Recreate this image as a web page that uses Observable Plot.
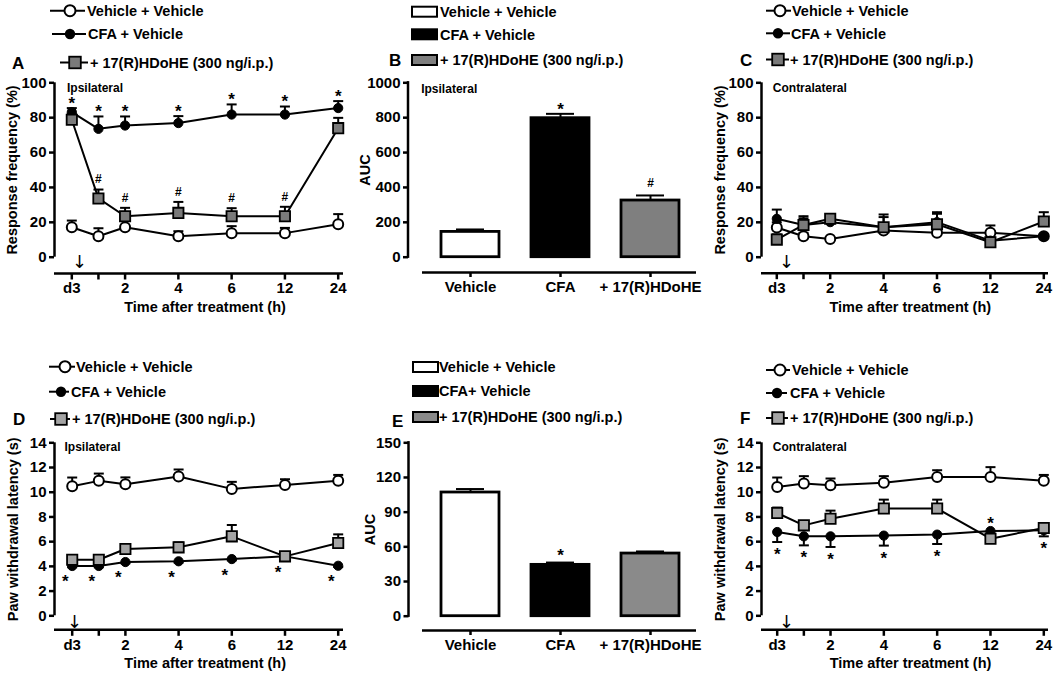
<!DOCTYPE html>
<html><head><meta charset="utf-8">
<script src="https://cdn.jsdelivr.net/npm/d3@7"></script>
<script src="https://cdn.jsdelivr.net/npm/@observablehq/plot@0.6"></script>
<style>
body{margin:0;background:#fff;}
#page{position:relative;width:1063px;height:679px;overflow:hidden;background:#fff;}
</style></head><body><div id="page"></div>
<script>
// ---------------- DATA ----------------
const hours = [0, 1, 2, 4, 6, 12, 24];            // d3 = baseline before treatment
const hourLabels = ["d3", "", "2", "4", "6", "12", "24"];
const hourSlots = [0, 0.5, 1, 2, 3, 4, 5];         // column spacing of the time axis
const seriesNames = ["Vehicle + Vehicle", "CFA + Vehicle", "+ 17(R)HDoHE (300 ng/i.p.)"];
const xLabel = "Time after treatment (h)";

// Panel A – response frequency (%), ipsilateral
const vehA = [17.2, 12.0, 17.2, 12.0, 13.8, 13.8, 18.9];
const vehA_sem = [3.8, 4.6, 0.5, 2.9, 4.0, 3.0, 5.8];
const cfaA = [83.2, 73.6, 75.5, 76.9, 81.8, 81.8, 85.5];
const cfaA_sem = [2.3, 7.1, 5.2, 4.0, 5.8, 4.6, 4.0];
const hdA = [78.8, 33.7, 23.5, 25.4, 23.5, 23.5, 74.0];
const hdA_sem = [3.5, 5.1, 4.8, 6.3, 4.6, 5.4, 5.9];
const sigA_cfa = ["*", "*", "*", "*", "*", "*", "*"];
const sigA_hd = ["", "#", "#", "#", "#", "#", ""];

// Panel C – response frequency (%), contralateral
const vehC = [17.0, 12.0, 10.5, 15.3, 14.0, 14.0, 12.0];
const vehC_sem = [3.0, 2.0, 0.5, 2.0, 2.0, 4.2, 1.0];
const cfaC = [22.0, 18.5, 20.1, 17.2, 20.1, 9.5, 12.0];
const cfaC_sem = [5.3, 5.0, 1.5, 7.3, 5.7, 2.0, 1.0];
const hdC = [10.1, 18.5, 22.0, 17.2, 18.9, 8.6, 20.5];
const hdC_sem = [3.0, 3.8, 1.5, 5.8, 6.0, 2.0, 5.3];

// Panel D – paw withdrawal latency (s), ipsilateral
const vehD = [10.49, 10.92, 10.65, 11.27, 10.27, 10.59, 10.92];
const vehD_sem = [0.70, 0.59, 0.55, 0.57, 0.57, 0.46, 0.48];
const cfaD = [4.03, 4.03, 4.35, 4.41, 4.59, 4.81, 4.05];
const cfaD_sem = [0.1, 0.1, 0.1, 0.1, 0.1, 0.1, 0.1];
const hdD = [4.54, 4.54, 5.41, 5.54, 6.43, 4.81, 5.89];
const hdD_sem = [0.2, 0.2, 0.3, 0.4, 0.92, 0.2, 0.70];
const sigD_cfa = ["*", "*", "*", "*", "*", "*", "*"];

// Panel F – paw withdrawal latency (s), contralateral
const vehF = [10.43, 10.70, 10.57, 10.76, 11.24, 11.24, 10.92];
const vehF_sem = [0.76, 0.60, 0.54, 0.54, 0.54, 0.79, 0.48];
const cfaF = [6.78, 6.43, 6.43, 6.49, 6.57, 6.86, 6.92];
const cfaF_sem = [0.81, 0.73, 0.86, 0.81, 0.76, 0.2, 0.49];   // drawn downward
const hdF = [8.32, 7.32, 7.86, 8.68, 8.68, 6.24, 7.10];
const hdF_sem = [0.44, 0.30, 0.65, 0.72, 0.72, 0.2, 0.30];
const sigF_cfa = ["*", "*", "*", "*", "*", "*", "*"];
const sigF_side = ["below", "below", "below", "below", "below", "above", "below"];

// Panels B and E – AUC bars
const barCats = ["Vehicle", "CFA", "+ 17(R)HDoHE"];
const aucB = [145, 797, 325];
const aucB_sem = [14, 25, 29];
const sigB = ["", "*", "#"];
const aucE = [107, 44.4, 54.2];
const aucE_sem = [3, 2, 1.8];
const sigE = ["", "*", ""];
const legendB = ["Vehicle + Vehicle", "CFA + Vehicle", "+ 17(R)HDoHE (300 ng/i.p.)"];
const legendE = ["Vehicle + Vehicle", "CFA+ Vehicle", "+ 17(R)HDoHE (300 ng/i.p.)"];

// ---------------- RENDERING ----------------
const FONT = "'Liberation Sans', Arial, Helvetica, sans-serif";
const page = document.getElementById("page");
const GREY_TOP = "#7a7a7a", GREY_BOTTOM = "#a4a4a4";

function place(node, left, top) {
  node.style.position = "absolute";
  node.style.left = left + "px";
  node.style.top = top + "px";
  page.appendChild(node);
}
const plotStyle = {fontFamily: FONT, fontSize: "15px", fontWeight: "bold", background: "transparent", overflow: "visible", color: "black"};
const capSymbol = {draw(ctx, size) { const w = Math.sqrt(size / Math.PI); ctx.moveTo(-w, 0); ctx.lineTo(w, 0); }};
const tickDown = {draw(ctx) { ctx.moveTo(0, 0); ctx.lineTo(0, 6); }};

function markerMark(rows, kind, fill) {
  if (kind === "open") return Plot.dot(rows, {x: "slot", y: "mean", r: 5, fill: "white", stroke: "black", strokeWidth: 2});
  if (kind === "filled") return Plot.dot(rows, {x: "slot", y: "mean", r: 4.6, fill: "black", stroke: "black", strokeWidth: 1});
  return Plot.dot(rows, {x: "slot", y: "mean", symbol: "square", r: 5.8, fill, stroke: "black", strokeWidth: 1.8});
}

function layout(cfg) {
  const mL = cfg.axisX - cfg.left, mR = cfg.left + cfg.width - cfg.frameRight;
  const mT = cfg.yTopPx - cfg.top, mB = cfg.top + cfg.height - cfg.xLinePx;
  const yMin = -(cfg.xLinePx - cfg.y0Px) * cfg.yMax / (cfg.y0Px - cfg.yTopPx);
  return {mL, mR, mT, mB, yMin};
}

function linePanel(cfg) {
  const slotOf = d3.scaleLinear().domain(hours).range(hourSlots);
  const tickRows = hours.map((h, i) => ({slot: slotOf(h), label: hourLabels[i]}));
  const {mL, mR, mT, mB, yMin} = layout(cfg);
  const k = (cfg.tick5Px - cfg.tick0Px) / 5;
  const xDomain = [(cfg.axisX - cfg.tick0Px) / k, 5 + (cfg.frameRight - cfg.tick5Px) / k];
  const xMid = (tickRows[0].slot + tickRows[tickRows.length - 1].slot) / 2;
  const rowsOf = cfg.series.map(s => hours.map((h, i) => ({slot: slotOf(h), mean: s.mean[i], end: s.mean[i] + s.dir * s.sem[i]})));
  const marks = [
    // axes (GraphPad style: y line 0..max, detached x line at the bottom)
    Plot.ruleX([xDomain[0]], {y1: 0, y2: cfg.yMax, stroke: "black", strokeWidth: 2.5}),
    Plot.ruleY([yMin], {stroke: "black", strokeWidth: 2.5}),
    Plot.axisY({ticks: cfg.yTicks, tickFormat: d => String(d), tickSize: 5, tickPadding: 3, strokeWidth: 2.5, label: null}),
    Plot.dot(tickRows, {x: "slot", y: yMin, symbol: tickDown, r: 3, stroke: "black", strokeWidth: 2.5, fill: "none"}),
    Plot.text(tickRows.filter(d => d.label), {x: "slot", y: yMin, text: "label", dy: 15, lineAnchor: "middle", fontSize: 15, fontWeight: "bold"}),
    Plot.text([xLabel], {x: xMid, y: yMin, dy: 34, textAnchor: "middle", lineAnchor: "middle", fontSize: 14.5, fontWeight: "bold"}),
    Plot.text([cfg.yLabel], {x: xDomain[0], y: cfg.yMax / 2, dx: cfg.yLabelDx, rotate: -90, textAnchor: "middle", lineAnchor: "middle", fontSize: 14.5, fontWeight: "bold"}),
    Plot.text(["\u2193"], {x: xDomain[0], y: yMin, dx: cfg.arrowDx, dy: cfg.arrowDy, textAnchor: "middle", lineAnchor: "middle", fontSize: 18, fontWeight: "normal", fontFamily: "'DejaVu Sans', sans-serif", fill: "black"}),
    Plot.text([cfg.subtitle], {x: xDomain[0], y: cfg.yMax, dx: cfg.subDx, dy: cfg.subDy, textAnchor: "start", lineAnchor: "middle", fontSize: 12, fontWeight: "bold"})
  ];
  rowsOf.forEach(rows => marks.push(Plot.line(rows, {x: "slot", y: "mean", stroke: "black", strokeWidth: 2})));
  rowsOf.forEach(rows => {
    marks.push(Plot.ruleX(rows, {x: "slot", y1: "mean", y2: "end", stroke: "black", strokeWidth: 2}));
    marks.push(Plot.dot(rows, {x: "slot", y: "end", symbol: capSymbol, r: 5, stroke: "black", strokeWidth: 2, fill: "none"}));
  });
  cfg.series.forEach((s, j) => marks.push(markerMark(rowsOf[j], s.kind, cfg.sqFill)));
  (cfg.notes || []).forEach(n => {
    const rows = rowsOf[n.series].map((r, i) => ({...r, label: n.labels[i]})).filter(d => d.label);
    marks.push(Plot.text(rows, {x: "slot", y: n.ref, text: "label", dx: n.dx || 0, dy: n.dy, fontSize: n.fontSize, fontWeight: "bold"}));
  });
  const svg = Plot.plot({
    width: cfg.width, height: cfg.height,
    marginLeft: mL, marginRight: mR, marginTop: mT, marginBottom: mB,
    x: {domain: xDomain, axis: null},
    y: {domain: [yMin, cfg.yMax], axis: null},
    style: plotStyle,
    marks
  });
  place(svg, cfg.left, cfg.top);
}

function yAxisLine(yTop, xLeft) {
  return (index, scales) => {
    const g = d3.create("svg:g").attr("stroke", "black").attr("stroke-width", 2.5);
    g.append("line").attr("x1", xLeft).attr("x2", xLeft).attr("y1", scales.y(yTop) - 1.2).attr("y2", scales.y(0) + 1.2);
    return g.node();
  };
}

function barPanel(cfg) {
  const {mL, mR, mT, mB, yMin} = layout(cfg);
  const rows = barCats.map((c, i) => ({cat: c, value: cfg.values[i], end: cfg.values[i] + cfg.sems[i], fill: cfg.fills[i], sig: cfg.sig[i]}));
  const marks = [
    yAxisLine(cfg.yMax, mL),
    Plot.ruleY([yMin], {stroke: "black", strokeWidth: 2.5, insetLeft: cfg.xLineStart - cfg.axisX}),
    Plot.axisY({ticks: cfg.yTicks, tickFormat: d => String(d), tickSize: 5, tickPadding: 3, strokeWidth: 2.5, label: null}),
    Plot.axisX({tickSize: 5, tickPadding: 4, strokeWidth: 2.5, label: null}),
    Plot.ruleX(rows, {x: "cat", y1: "value", y2: "end", stroke: "black", strokeWidth: 2}),
    Plot.tickY(rows, {x: "cat", y: "end", stroke: "black", strokeWidth: 2, insetLeft: 15, insetRight: 15}),
    Plot.barY(rows, {x: "cat", y: "value", fill: "fill", stroke: "black", strokeWidth: 2.8}),
    Plot.text(rows.filter(d => d.sig === "*"), {x: "cat", y: "end", text: "sig", dy: cfg.starDy, fontSize: 17, fontWeight: "bold"}),
    Plot.text(rows.filter(d => d.sig === "#"), {x: "cat", y: "end", text: "sig", dy: -12, fontSize: 12, fontWeight: "bold"}),
    Plot.text(["AUC"], {frameAnchor: "left", y: cfg.yMax / 2, rotate: -90, dx: cfg.yLabelDx, textAnchor: "middle", lineAnchor: "middle", fontSize: 14.5, fontWeight: "bold"})
  ];
  if (cfg.subtitle) marks.push(Plot.text([cfg.subtitle], {frameAnchor: "left", y: cfg.yMax, dx: cfg.subDx, dy: cfg.subDy, textAnchor: "start", lineAnchor: "middle", fontSize: 12, fontWeight: "bold"}));
  const svg = Plot.plot({
    width: cfg.width, height: cfg.height,
    marginLeft: mL, marginRight: mR, marginTop: mT, marginBottom: mB,
    x: {domain: barCats, paddingInner: 0.36, paddingOuter: 0.18, insetLeft: cfg.bandStart - cfg.axisX},
    y: {domain: [yMin, cfg.yMax]},
    color: {type: "identity"},
    style: plotStyle,
    marks
  });
  place(svg, cfg.left, cfg.top);
}

const kinds = ["open", "filled", "square"];

// Panel A
linePanel({
  left: 0, top: 75, width: 350, height: 245, axisX: 54, frameRight: 343,
  yTopPx: 82.3, y0Px: 256.7, xLinePx: 273, tick0Px: 71.3, tick5Px: 337.7,
  yMax: 100, yTicks: [0, 20, 40, 60, 80, 100], yLabel: "Response frequency (%)", yLabelDx: -42,
  subtitle: "Ipsilateral", subDx: 12.5, subDy: 5, arrowDx: 25, arrowDy: -11, sqFill: GREY_TOP,
  series: [
    {mean: vehA, sem: vehA_sem, dir: 1, kind: "open"},
    {mean: cfaA, sem: cfaA_sem, dir: 1, kind: "filled"},
    {mean: hdA, sem: hdA_sem, dir: 1, kind: "square"}
  ],
  notes: [
    {series: 1, labels: sigA_cfa, ref: "end", dy: -4.5, fontSize: 17},
    {series: 2, labels: sigA_hd, ref: "end", dy: -10, fontSize: 12}
  ]
});
// Panel C
linePanel({
  left: 700, top: 75, width: 363, height: 245, axisX: 761, frameRight: 1048,
  yTopPx: 82.3, y0Px: 256.7, xLinePx: 272.7, tick0Px: 776.3, tick5Px: 1043.3,
  yMax: 100, yTicks: [0, 20, 40, 60, 80, 100], yLabel: "Response frequency (%)", yLabelDx: -41,
  subtitle: "Contralateral", subDx: 11.3, subDy: 5, arrowDx: 25, arrowDy: -11, sqFill: GREY_TOP,
  series: [
    {mean: vehC, sem: vehC_sem, dir: 1, kind: "open"},
    {mean: cfaC, sem: cfaC_sem, dir: 1, kind: "filled"},
    {mean: hdC, sem: hdC_sem, dir: 1, kind: "square"}
  ]
});
// Panel D
linePanel({
  left: 0, top: 430, width: 350, height: 245, axisX: 54, frameRight: 343,
  yTopPx: 442.3, y0Px: 615.3, xLinePx: 629.3, tick0Px: 71.7, tick5Px: 337.7,
  yMax: 14, yTicks: [0, 2, 4, 6, 8, 10, 12, 14], yLabel: "Paw withdrawal latency (s)", yLabelDx: -41.5,
  subtitle: "Ipsilateral", subDx: 10, subDy: 4.4, arrowDx: 20, arrowDy: -7.5, sqFill: GREY_BOTTOM,
  series: [
    {mean: vehD, sem: vehD_sem, dir: 1, kind: "open"},
    {mean: cfaD, sem: cfaD_sem, dir: -1, kind: "filled"},
    {mean: hdD, sem: hdD_sem, dir: 1, kind: "square"}
  ],
  notes: [
    {series: 1, labels: sigD_cfa, ref: "mean", dx: -7, dy: 16, fontSize: 17}
  ]
});
// Panel F
linePanel({
  left: 700, top: 430, width: 363, height: 245, axisX: 761, frameRight: 1048,
  yTopPx: 442.3, y0Px: 615.3, xLinePx: 629.3, tick0Px: 776.7, tick5Px: 1043.3,
  yMax: 14, yTicks: [0, 2, 4, 6, 8, 10, 12, 14], yLabel: "Paw withdrawal latency (s)", yLabelDx: -41,
  subtitle: "Contralateral", subDx: 11.3, subDy: 4.4, arrowDx: 25, arrowDy: -8, sqFill: GREY_BOTTOM,
  series: [
    {mean: vehF, sem: vehF_sem, dir: 1, kind: "open"},
    {mean: cfaF, sem: cfaF_sem, dir: -1, kind: "filled"},
    {mean: hdF, sem: hdF_sem, dir: 1, kind: "square"}
  ],
  notes: [
    {series: 1, labels: sigF_cfa.map((l, i) => sigF_side[i] === "below" ? l : ""), ref: "end", dy: 12.5, fontSize: 17},
    {series: 1, labels: sigF_cfa.map((l, i) => sigF_side[i] === "above" ? l : ""), ref: "mean", dy: -7, fontSize: 17}
  ]
});
// Panel B
barPanel({
  left: 355, top: 75, width: 345, height: 245, axisX: 408, frameRight: 696, bandStart: 424, xLineStart: 422,
  yTopPx: 82.3, y0Px: 256.7, xLinePx: 272, yMax: 1000, yTicks: [0, 200, 400, 600, 800, 1000],
  values: aucB, sems: aucB_sem, fills: ["white", "black", "#7f7f7f"], sig: sigB, starDy: -4.75,
  yLabelDx: -43, subtitle: "Ipsilateral", subDx: 12.7, subDy: 6
});
// Panel E
barPanel({
  left: 355, top: 430, width: 345, height: 245, axisX: 408.5, frameRight: 696, bandStart: 424, xLineStart: 422,
  yTopPx: 442.3, y0Px: 615.7, xLinePx: 630, yMax: 150, yTicks: [0, 30, 60, 90, 120, 150],
  values: aucE, sems: aucE_sem, fills: ["white", "black", "#8a8a8a"], sig: sigE, starDy: -6.75,
  yLabelDx: -38.5
});

// ---------------- LEGENDS & PANEL LETTERS ----------------
const over = d3.create("svg").attr("width", 1063).attr("height", 679)
  .style("font-family", FONT).style("font-weight", "bold");
function lineLegend(rows, letter, fill) {
  rows.forEach((r, i) => {
    over.append("line").attr("x1", r.x1).attr("x2", r.x2).attr("y1", r.y).attr("y2", r.y).attr("stroke", "black").attr("stroke-width", 2);
    const k = kinds[i];
    if (k === "open") over.append("circle").attr("cx", r.mx).attr("cy", r.y).attr("r", 5.5).attr("fill", "white").attr("stroke", "black").attr("stroke-width", 2);
    else if (k === "filled") over.append("circle").attr("cx", r.mx).attr("cy", r.y).attr("r", 5.2).attr("fill", "black");
    else over.append("rect").attr("x", r.mx - 5.8).attr("y", r.y - 5.8).attr("width", 11.6).attr("height", 11.6).attr("fill", fill).attr("stroke", "black").attr("stroke-width", 1.8);
    over.append("text").attr("x", r.tx).attr("y", r.y).attr("dy", "0.36em").attr("font-size", 14.5).text(seriesNames[i]);
  });
  over.append("text").attr("x", letter.x).attr("y", letter.y).attr("dy", "0.36em").attr("font-size", 17).text(letter.t);
}
function barLegend(ys, bx, tx, labels, fills, letter) {
  ys.forEach((y, i) => {
    over.append("rect").attr("x", bx).attr("y", y - 5).attr("width", 25).attr("height", 10).attr("fill", fills[i]).attr("stroke", "black").attr("stroke-width", 2);
    over.append("text").attr("x", tx).attr("y", y).attr("dy", "0.36em").attr("font-size", 14.5).text(labels[i]);
  });
  over.append("text").attr("x", letter.x).attr("y", letter.y).attr("dy", "0.36em").attr("font-size", 17).text(letter.t);
}
lineLegend([{y: 10.7, x1: 50, x2: 85, mx: 70, tx: 87}, {y: 34, x1: 52, x2: 86, mx: 70, tx: 88}, {y: 62.5, x1: 60, x2: 88, mx: 75, tx: 90}], {t: "A", x: 12, y: 62.5}, GREY_TOP);
lineLegend([{y: 10.7, x1: 766, x2: 791, mx: 780, tx: 792}, {y: 33.3, x1: 766, x2: 790, mx: 778, tx: 791}, {y: 59.5, x1: 766, x2: 789, mx: 778, tx: 790}], {t: "C", x: 740, y: 59.5}, GREY_TOP);
lineLegend([{y: 366.7, x1: 49, x2: 75, mx: 65, tx: 76}, {y: 391.7, x1: 49, x2: 69, mx: 61, tx: 71}, {y: 419, x1: 50, x2: 70, mx: 61, tx: 72}], {t: "D", x: 13, y: 419}, GREY_BOTTOM);
lineLegend([{y: 370, x1: 766, x2: 790, mx: 780, tx: 792}, {y: 393, x1: 766, x2: 787, mx: 777, tx: 790}, {y: 418, x1: 766, x2: 788, mx: 778, tx: 790}], {t: "F", x: 740, y: 418}, GREY_BOTTOM);
barLegend([11.7, 34.3, 60], 412, 440, legendB, ["white", "black", "#7f7f7f"], {t: "B", x: 389, y: 60});
barLegend([367, 391, 417], 413, 439, legendE, ["white", "black", "#8a8a8a"], {t: "E", x: 392, y: 421});
place(over.node(), 0, 0);
</script>
</body></html>
